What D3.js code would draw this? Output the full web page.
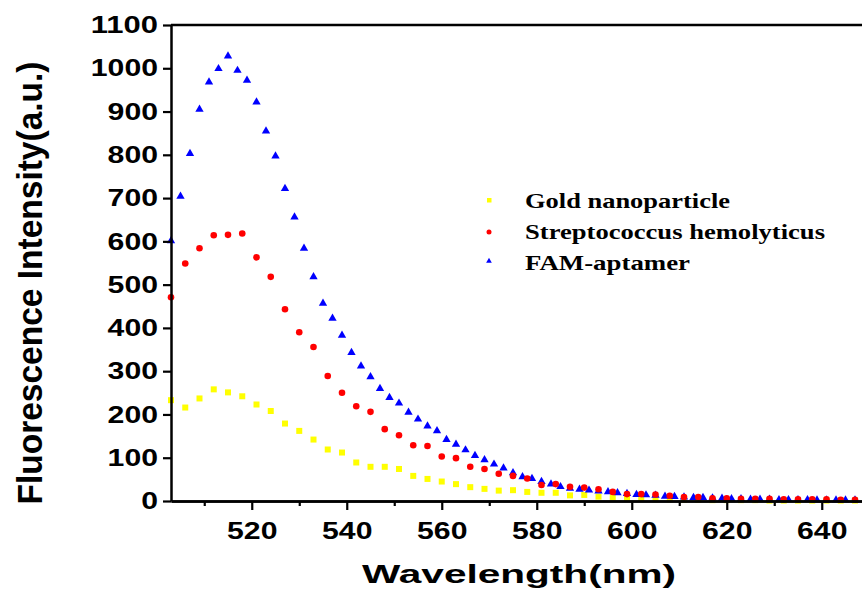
<!DOCTYPE html>
<html>
<head>
<meta charset="utf-8">
<script src="https://cdn.jsdelivr.net/npm/d3@7"></script>
<style>
  body { margin: 0; background: white; }
  svg { display: block; }
</style>
</head>
<body>
<div id="fluor_plot"></div>
<script>
// wavelengths (nm) for the FAM-aptamer series, one point every 2 nm
var famWavelength = [503,505,507,509,511,513,515,517,519,521,523,525,527,529,531,533,535,537,539,541,
  543,545,547,549,551,553,555,557,559,561,563,565,567,569,571,573,575,577,579,581,583,585,587,589,591,
  593,595,597,599,601,603,605,607,609,611,613,615,617,619,621,623,625,627,629,631,633,635,637,639,641,
  643,645,647];
var famIntensity = [601,704,803,905,968,999,1028,995,972,922,855,797,722,656,584,518,457,422,383,343,
  312,287,260,239,226,205,189,173,162,142,131,118,105,95,85,76,65,56,52,45,39,33,29,27,25,
  23,21,19,17,15,14,13,11,10,9,8,8,7,6,5,5,4,4,4,3,3,3,3,2,2,
  2,2,2];

// wavelengths (nm) for gold / streptococcus, one point every 3 nm
var wavelength = [503,506,509,512,515,518,521,524,527,530,533,536,539,542,545,548,551,554,557,560,
  563,566,569,572,575,578,581,584,587,590,593,596,599,602,605,608,611,614,617,620,623,626,629,632,
  635,638,641,644,647];
var strepIntensity = [471,549,584,614,615,618,563,518,443,390,356,289,250,219,206,166,152,129,127,103,
  99,79,74,63,58,52,37,39,33,31,27,21,16,16,15,12,9,9,6,6,5,5,5,4,
  4,4,4,3,3];
var goldIntensity = [233,216,237,258,251,242,223,208,179,162,142,119,112,89,79,79,74,58,51,45,
  39,32,28,24,25,21,19,19,13,14,10,8,6,5,4,4,3,3,2,2,2,2,1,1,
  1,1,1,1,1];

var seriesNames = ["Gold nanoparticle", "Streptococcus hemolyticus", "FAM-aptamer"];
var seriesColors = ["#ffff00", "#ff0000", "#0000ff"];

var xMajorTicks = [520, 540, 560, 580, 600, 620, 640];
var xMinorTicks = [510, 530, 550, 570, 590, 610, 630, 650];
var yTicks = [0, 100, 200, 300, 400, 500, 600, 700, 800, 900, 1000, 1100];

var totalWidth = 862, totalHeight = 603;
var sansFont = "'Liberation Sans', Arial, sans-serif";
var serifFont = "'Liberation Serif', 'Times New Roman', serif";

var svg = d3.select("#fluor_plot").append("svg")
    .attr("width", totalWidth)
    .attr("height", totalHeight);

// scales
var x = d3.scaleLinear().domain([503, 650]).range([171, 869.25]);
var y = d3.scaleLinear().domain([0, 1100]).range([501, 25]);

// markers
var gold = wavelength.map(function(d, i) { return {wl: d, v: goldIntensity[i]}; });
var strep = wavelength.map(function(d, i) { return {wl: d, v: strepIntensity[i]}; });
var fam = famWavelength.map(function(d, i) { return {wl: d, v: famIntensity[i]}; });

svg.append("g").selectAll("rect")
    .data(gold)
  .enter().append("rect")
    .attr("x", function(d) { return x(d.wl) - 3; })
    .attr("y", function(d) { return y(d.v) - 3; })
    .attr("width", 6)
    .attr("height", 6)
    .style("fill", seriesColors[0]);

var triangle = d3.symbol().type(d3.symbolTriangle).size(30);
svg.append("g").selectAll("path")
    .data(fam)
  .enter().append("path")
    .attr("d", triangle)
    .attr("transform", function(d) { return "translate(" + x(d.wl) + "," + y(d.v) + ")"; })
    .style("fill", seriesColors[2]);

svg.append("g").selectAll("circle")
    .data(strep)
  .enter().append("circle")
    .attr("cx", function(d) { return x(d.wl); })
    .attr("cy", function(d) { return y(d.v); })
    .attr("r", 3.3)
    .style("fill", seriesColors[1]);

// x axis (major + minor ticks)
svg.append("g")
    .attr("transform", "translate(0," + y(0) + ")")
    .call(d3.axisBottom(x).tickValues(xMajorTicks).tickSize(9).tickSizeOuter(0).tickPadding(12));
svg.append("g")
    .attr("transform", "translate(0," + y(0) + ")")
    .call(d3.axisBottom(x).tickValues(xMinorTicks).tickSize(5).tickSizeOuter(0).tickFormat(""));

// y axis
svg.append("g")
    .attr("transform", "translate(" + x(503) + ",0)")
    .call(d3.axisLeft(y).tickValues(yTicks).tickSize(8).tickSizeOuter(0).tickPadding(5)
        .tickFormat(d3.format("d")));

// top frame line
svg.append("line")
    .attr("x1", x(503)).attr("x2", totalWidth)
    .attr("y1", y(1100)).attr("y2", y(1100))
    .style("stroke", "black")
    .style("stroke-width", 2.5);

svg.selectAll(".domain").style("stroke", "black").style("stroke-width", 2.5);
svg.selectAll(".tick line").style("stroke", "black").style("stroke-width", 2.2);

svg.selectAll(".tick text")
    .style("font-family", sansFont)
    .style("font-weight", "bold")
    .style("font-size", "24px")
    .style("fill", "black")
    .attr("lengthAdjust", "spacingAndGlyphs")
    .attr("textLength", function() { return this.textContent.length * 16.8; });

// axis titles
svg.append("text")
    .attr("x", 519)
    .attr("y", 583)
    .attr("text-anchor", "middle")
    .attr("textLength", 314)
    .attr("lengthAdjust", "spacingAndGlyphs")
    .style("font-family", sansFont)
    .style("font-weight", "bold")
    .style("font-size", "26px")
    .text("Wavelength(nm)");

svg.append("text")
    .attr("transform", "translate(42,283) rotate(-90)")
    .attr("text-anchor", "middle")
    .attr("textLength", 443)
    .attr("lengthAdjust", "spacingAndGlyphs")
    .style("font-family", sansFont)
    .style("font-weight", "bold")
    .style("font-size", "35px")
    .text("Fluorescence Intensity(a.u.)");

// legend
var legendBaseline = [208, 239, 270];
var legendWidth = [205, 300, 165];
var legend = svg.append("g");

legend.append("rect")
    .attr("x", 487).attr("y", 198).attr("width", 4.5).attr("height", 4.5)
    .style("fill", seriesColors[0]);
legend.append("circle")
    .attr("cx", 489).attr("cy", 232).attr("r", 2.5)
    .style("fill", seriesColors[1]);
legend.append("path")
    .attr("d", d3.symbol().type(d3.symbolTriangle).size(14))
    .attr("transform", "translate(489,261)")
    .style("fill", seriesColors[2]);

legend.selectAll("text")
    .data(seriesNames)
  .enter().append("text")
    .attr("x", 525)
    .attr("y", function(d, i) { return legendBaseline[i]; })
    .attr("textLength", function(d, i) { return legendWidth[i]; })
    .attr("lengthAdjust", "spacingAndGlyphs")
    .style("font-family", serifFont)
    .style("font-weight", "bold")
    .style("font-size", "22px")
    .text(function(d) { return d; });
</script>
</body>
</html>
